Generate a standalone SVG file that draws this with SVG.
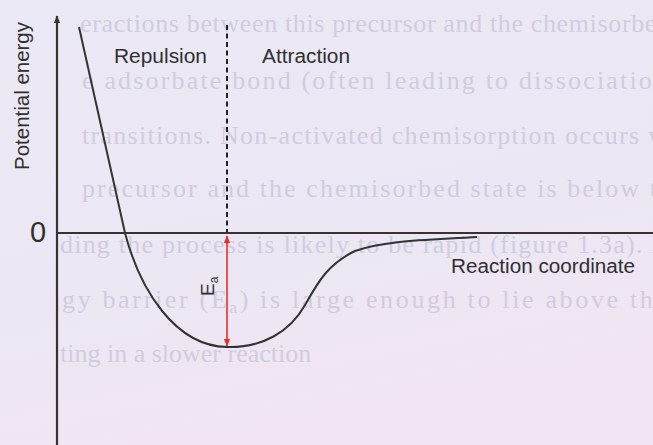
<svg xmlns="http://www.w3.org/2000/svg" width="653" height="445" viewBox="0 0 653 445">
<defs>
<linearGradient id="bg" x1="0" y1="0" x2="0.3" y2="1">
<stop offset="0" stop-color="#ebe9f5"/>
<stop offset="0.6" stop-color="#ece7f4"/>
<stop offset="1" stop-color="#f1e5f3"/>
</linearGradient>
<marker id="ah" viewBox="0 0 10 10" refX="9" refY="5" markerWidth="5" markerHeight="5" orient="auto-start-reverse">
<path d="M0,1 L10,5 L0,9 z" fill="#e8302a"/>
</marker>
<marker id="ax" viewBox="0 0 10 10" refX="9" refY="5" markerWidth="3.5" markerHeight="4" orient="auto">
<path d="M0,1 L10,5 L0,9 z" fill="#3a3232"/>
</marker>
</defs>
<style>
.bgt{font-family:"Liberation Serif",serif;font-size:26px;fill:#d0cde0}
.lbl{font-family:"Liberation Sans",Arial,sans-serif;font-size:20px;fill:#303030}
.axis{stroke:#3a3232;stroke-width:2.2;fill:none}
</style>
<rect width="653" height="445" fill="url(#bg)"/>
<g id="background-text">
<text class="bgt" x="80" y="32" textLength="590" lengthAdjust="spacing">eractions between this precursor and the chemisorbed</text>
<text class="bgt" x="82" y="89" textLength="585" lengthAdjust="spacing">e adsorbate bond (often leading to dissociation</text>
<text class="bgt" x="82" y="144" textLength="585" lengthAdjust="spacing">transitions. Non-activated chemisorption occurs w</text>
<text class="bgt" x="82" y="197" textLength="590" lengthAdjust="spacing">precursor and the chemisorbed state is below th</text>
<text class="bgt" x="60" y="253" textLength="600" lengthAdjust="spacing">ding the process is likely to be rapid (figure 1.3a). I</text>
<text class="bgt" x="62" y="308" textLength="605" lengthAdjust="spacing">gy barrier (E<tspan font-size="17" dy="5">a</tspan><tspan dy="-5">) is large enough to lie above the</tspan></text>
<text class="bgt" x="60" y="362">ting in a slower reaction</text>
</g>
<g id="axes">
<line class="axis" x1="57" y1="445" x2="57" y2="16" marker-end="url(#ax)"/>
<line class="axis" x1="57" y1="233" x2="653" y2="233"/>
</g>
<g id="connectors">
<line x1="227" y1="25" x2="227" y2="232" stroke="#222" stroke-width="2" stroke-dasharray="5,3.5"/>
<line x1="227" y1="236" x2="227" y2="346" stroke="#e8302a" stroke-width="1.6" marker-start="url(#ah)" marker-end="url(#ah)"/>
</g>
<g id="curve">
<path d="M79,27 L125,233 C140,290 175,346 227,347 C262,348 290,332 305,305 C318,282 328,264 355,251 C385,240 430,240 477,237" fill="none" stroke="#333" stroke-width="2"/>
</g>
<g id="labels">
<text class="lbl" x="114" y="63" textLength="93" lengthAdjust="spacingAndGlyphs">Repulsion</text>
<text class="lbl" x="262" y="63" textLength="88" lengthAdjust="spacingAndGlyphs">Attraction</text>
<text class="lbl" x="451" y="273" textLength="184" lengthAdjust="spacingAndGlyphs">Reaction coordinate</text>
<text class="lbl" transform="translate(29,170) rotate(-90)" textLength="148" lengthAdjust="spacingAndGlyphs">Potential energy</text>
<text class="lbl" x="30" y="242" style="font-size:29px">0</text>
<text class="lbl" transform="translate(214,296) rotate(-90)" style="font-size:19px">E<tspan font-size="12" dy="4">a</tspan></text>
</g>
</svg>
